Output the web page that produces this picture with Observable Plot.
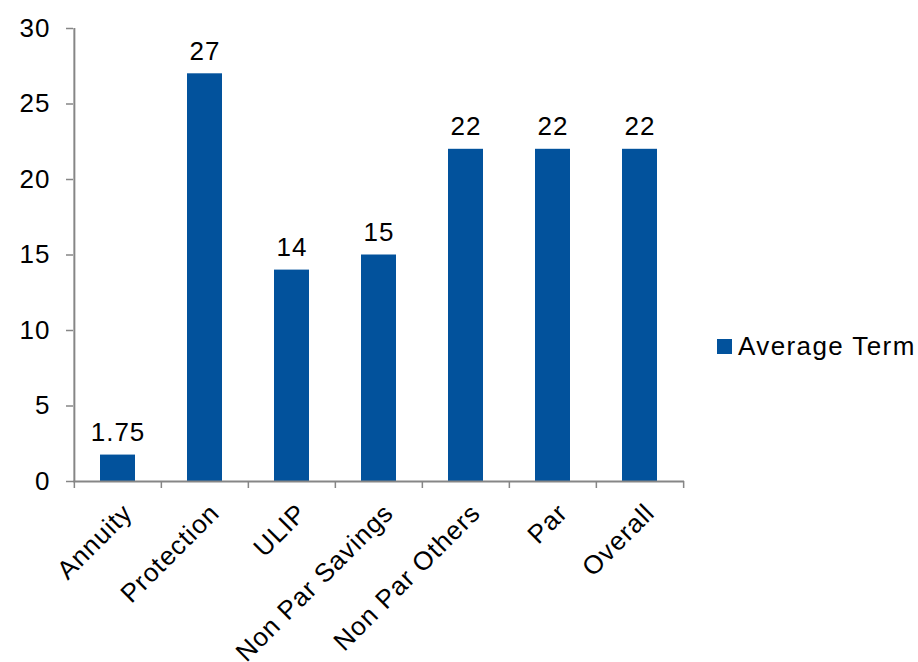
<!DOCTYPE html>
<html><head><meta charset="utf-8">
<script src="https://cdn.jsdelivr.net/npm/d3@7"></script>
<script src="https://cdn.jsdelivr.net/npm/@observablehq/plot@0.6"></script>
<style>
body{margin:0;background:#fff;}
#wrap{position:relative;width:918px;height:662px;font-family:"Liberation Sans",Arial,sans-serif;}
#wrap svg{letter-spacing:1px;}
#legend{position:absolute;left:717px;top:333px;display:flex;align-items:center;font-size:26px;line-height:26px;letter-spacing:1.4px;color:#000;}
#legend .sw{width:15px;height:15px;background:#02529c;margin-right:6px;display:inline-block;}
</style></head><body>
<div id="wrap"><div id="chart"></div><div id="legend"><span class="sw"></span><span id="legtext"></span></div></div>
<script>
const categories = ["Annuity", "Protection", "ULIP", "Non Par Savings", "Non Par Others", "Par", "Overall"];
const values = [1.75, 27, 14, 15, 22, 22, 22];
const yTicks = [0, 5, 10, 15, 20, 25, 30];
const seriesName = "Average Term";

const barColor = "#02529c";
const axisColor = "#868686";
const W = 918, H = 662, ML = 73, MR = 234, MT = 28, MB = 181;
const step = (W - ML - MR) / categories.length;
const data = categories.map((c, i) => ({category: c, value: values[i]}));

document.getElementById("legtext").textContent = seriesName;

const chart = Plot.plot({
  width: W, height: H,
  marginLeft: ML, marginRight: MR, marginTop: MT, marginBottom: MB,
  style: {fontFamily: '"Liberation Sans", Arial, sans-serif', fontSize: "26px", color: "#000", background: "transparent"},
  x: {domain: categories, paddingInner: 0.6, paddingOuter: 0.3, axis: null},
  y: {domain: [0, 30]},
  marks: [
    Plot.barY(data, {x: "category", y: "value", fill: barColor}),
    Plot.ruleY([0], {stroke: axisColor, strokeWidth: 2}),
    Plot.ruleX([categories[0]], {x: d => d, y1: 0, y2: 30, dx: -step / 2, stroke: axisColor, strokeWidth: 2}),
    Plot.ruleX(categories, {x: d => d, y1: 0, y2: 0, insetBottom: -7, dx: -step / 2, stroke: axisColor, strokeWidth: 1.5}),
    Plot.ruleX([categories[categories.length - 1]], {x: d => d, y1: 0, y2: 0, insetBottom: -7, dx: step / 2, stroke: axisColor, strokeWidth: 1.5}),
    Plot.axisY({ticks: yTicks, tickSize: 7, tickPadding: 16, stroke: axisColor, strokeWidth: 1.5, fill: "#000", fontSize: 26, label: null}),
    Plot.text(data, {x: "category", y: "value", text: d => String(d.value), dy: -14, lineAnchor: "bottom", fontSize: 26, fill: "#000"}),
    Plot.text(categories, {x: d => d, y: d => 0, text: d => d, rotate: -45, textAnchor: "end", lineAnchor: "bottom", dx: 16, dy: 33, fontSize: 26, fill: "#000"})
  ]
});
document.getElementById("chart").appendChild(chart);
</script>
</body></html>
